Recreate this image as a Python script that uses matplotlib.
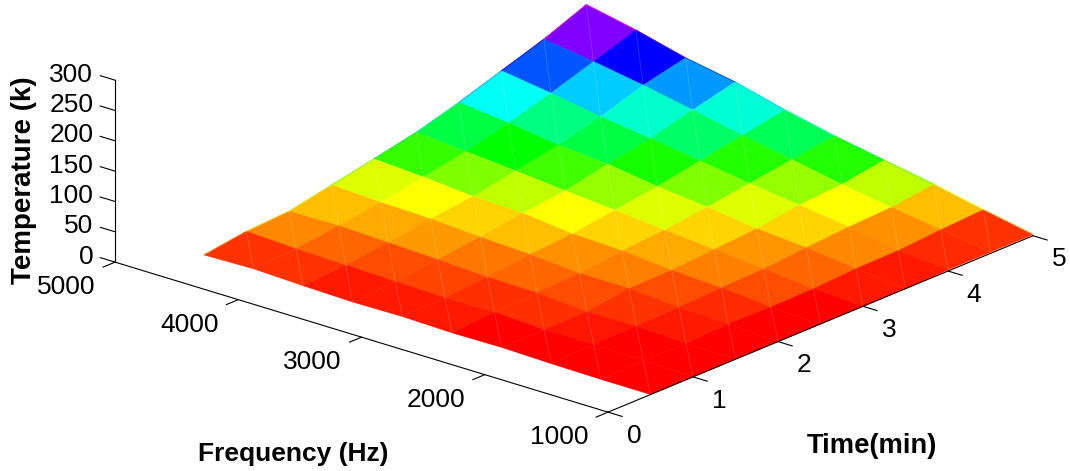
import numpy as np
import matplotlib
matplotlib.use("Agg")
import matplotlib.pyplot as plt
from matplotlib.colors import hsv_to_rgb

plt.rcParams["font.family"] = ["Liberation Sans", "DejaVu Sans"]

time_min = [0.5, 1.0, 1.5, 2.0, 2.5, 3.0, 3.5, 4.0, 4.5, 5.0]
freq_hz = [1000, 1403, 1805, 2208, 2611, 3014, 3417, 3819, 4222, 4625]

# temperature at each grid point, one row per time
temp_k = [
    [0, 0, 1, 3, 2, 4, 3, 5, 8, 6],
    [0, 2, 4, 3, 7, 6, 8, 10, 12, 16],
    [0, 1, 5, 4, 10, 11, 15, 18, 21, 20],
    [0, 4, 7, 13, 13, 19, 23, 28, 30, 34],
    [0, 3, 10, 14, 21, 24, 33, 36, 43, 48],
    [0, 4, 12, 19, 26, 34, 41, 49, 56, 63],
    [0, 8, 18, 24, 35, 44, 56, 62, 74, 83],
    [2, 9, 23, 34, 45, 57, 69, 80, 94, 106],
    [2, 14, 26, 39, 55, 70, 87, 103, 117, 129],
    [2, 18, 35, 50, 65, 83, 104, 119, 140, 157],
]

# colour of each cell as a hue in degrees
cell_hue = [
    [0, 0, 0, 0, 6, 6, 6, 12, 12],
    [0, 0, 5, 11, 11, 16, 18, 24, 32],
    [0, 6, 12, 18, 24, 28, 36, 40, 45],
    [0, 10, 18, 30, 34, 45, 50, 60, 68],
    [0, 18, 30, 40, 50, 60, 75, 90, 108],
    [6, 24, 35, 50, 68, 85, 105, 120, 136],
    [6, 32, 50, 68, 90, 115, 136, 150, 178],
    [10, 34, 60, 85, 112, 144, 168, 192, 220],
    [12, 45, 75, 112, 140, 170, 204, 240, 270],
]

time_ticks = [0, 1, 2, 3, 4, 5]
freq_ticks = [1000, 2000, 3000, 4000, 5000]
temp_ticks = [0, 50, 100, 150, 200, 250, 300]

W, H = 1070, 471
SIDE = 913.8

fig = plt.figure(figsize=(W / 100, H / 100), dpi=100)
ax = fig.add_axes([104.8 / W, -156.2 / H, SIDE / W, SIDE / H], projection="3d", proj_type="ortho")
ax.computed_zorder = False
ax.set_box_aspect((653.5, 649, 194.7))
ax.view_init(elev=20.82, azim=220.57)
ax.set_xlim(0, 5)
ax.set_ylim(1000, 5000)
ax.set_zlim(0, 300)
ax.set_axis_off()

X, Y = np.meshgrid(time_min, freq_hz, indexing="ij")
Z = np.array(temp_k, dtype=float)
hue = np.array(cell_hue) / 360.0
rgb = hsv_to_rgb(np.dstack([hue, np.ones_like(hue), np.ones_like(hue)]))

surf = ax.plot_surface(X, Y, Z, rstride=1, cstride=1, facecolors=rgb, shade=False,
                       linewidth=0.3, antialiased=True, zorder=1)
surf.set_clip_on(False)

# faint diagonals across the cells
for i in range(9):
    for j in range(9):
        ax.plot([X[i, j], X[i + 1, j + 1]], [Y[i, j], Y[i + 1, j + 1]], [Z[i, j], Z[i + 1, j + 1]],
                color="white", alpha=0.22, lw=0.5, zorder=2, clip_on=False)

# thin shifted-colour rim along the two back edges
for k in range(9):
    rim = hsv_to_rgb([min(hue[8, k] + 0.07, 1.0), 1, 1])
    ax.plot([X[9, k], X[9, k + 1]], [Y[9, k], Y[9, k + 1]], [Z[9, k], Z[9, k + 1]],
            color=rim, lw=0.5, zorder=2, clip_on=False)
    rim = hsv_to_rgb([min(hue[k, 8] + 0.07, 1.0), 1, 1])
    ax.plot([X[k, 9], X[k + 1, 9]], [Y[k, 9], Y[k + 1, 9]], [Z[k, 9], Z[k + 1, 9]],
            color=rim, lw=0.5, zorder=2, clip_on=False)

line = dict(color="black", lw=0.8, zorder=3, clip_on=False)
ax.plot([0, 5], [1000, 1000], [0, 0], **line)
ax.plot([0, 0], [1000, 5000], [0, 0], **line)
ax.plot([0, 0], [5000, 5000], [0, 300], **line)

label = dict(fontsize=19, color="black", zorder=4)
for t in time_ticks:
    ax.plot([t, t], [1000, 885], [0, 0], **line)
    ax.text(t - 0.259, 612, 0, str(t), ha="center", va="center", **label)
for f in freq_ticks:
    ax.plot([0, -0.14], [f, f], [0, 0], **line)
    ax.text(-0.652, f - 52, 0, str(f), ha="center", va="center", **label)
for z in temp_ticks:
    ax.plot([0, 0], [5000, 5120], [z, z], **line)
    ax.text(0, 5178, z - 2, str(z), ha="right", va="center", **label)

fig.text(293 / W, 1 - 454 / H, "Frequency (Hz)", fontsize=19, fontweight="bold", ha="center", va="center", color="black")
fig.text(872 / W, 1 - 446 / H, "Time(min)", fontsize=19.7, fontweight="bold", ha="center", va="center", color="black")
fig.text(24 / W, 1 - 180 / H, "Temperature (k)", fontsize=20, fontweight="bold", rotation=90, ha="center", va="center", color="black")

fig.savefig("out.png", dpi=100)
